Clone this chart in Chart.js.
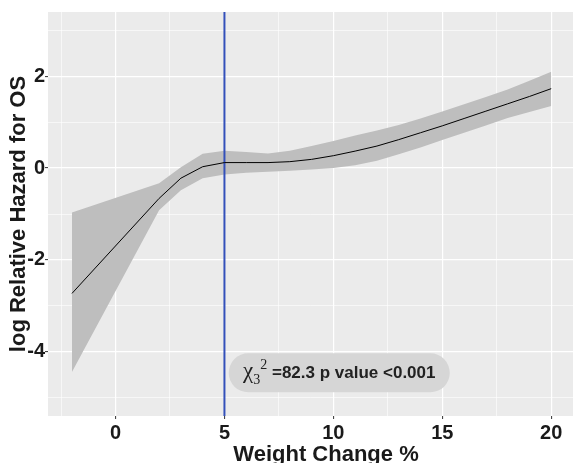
<!DOCTYPE html>
<html>
<head>
<meta charset="utf-8">
<script src="https://cdn.jsdelivr.net/npm/chart.js@4.4.1/dist/chart.umd.min.js"></script>
<style>
    html, body { margin: 0; padding: 0; background: #ffffff; }
</style>
</head>
<body>
<canvas id="graficoHazard" width="573" height="463"></canvas>
<script>
// Values
const weightChange = [-2, 2, 3, 4, 5, 6, 7, 8, 9, 10, 11, 12, 13, 14, 15, 16, 17, 18, 19, 20];
const logHazard = [-2.73, -0.66, -0.22, 0.03, 0.12, 0.12, 0.12, 0.14, 0.19, 0.27, 0.37, 0.48, 0.62, 0.77, 0.92, 1.08, 1.24, 1.40, 1.56, 1.73];
const upperCI = [-0.97, -0.33, 0.02, 0.31, 0.38, 0.35, 0.32, 0.38, 0.48, 0.59, 0.71, 0.82, 0.94, 1.08, 1.23, 1.39, 1.55, 1.71, 1.90, 2.10];
const lowerCI = [-4.44, -0.92, -0.48, -0.22, -0.14, -0.10, -0.08, -0.06, -0.03, 0.00, 0.06, 0.16, 0.30, 0.45, 0.61, 0.77, 0.93, 1.09, 1.22, 1.35];

// Cut-off line at 5 %
const cutoffX = [5, 5];
const cutoffY = [-5.4, 3.4];

// Ticks (major ones carry labels, minor ones only a thin grid line)
const xMajor = [0, 5, 10, 15, 20];
const xMinor = [-2.5, 2.5, 7.5, 12.5, 17.5];
const yMajor = [-4, -2, 0, 2];
const yMinor = [-5, -3, -1, 1, 3];

// Axis titles
const xTitle = 'Weight Change %';
const yTitle = 'log Relative Hazard for OS';

// Test statistic label
const statSymbol = 'χ';
const statDf = '3';
const statPow = '2';
const statText = ' =82.3 p value <0.001';
const statPos = [10.27, -4.46];

function toPoints(xs, ys) {
    return xs.map(function(x, i) { return { x: x, y: ys[i] }; });
}

function tickList(major, minor) {
    return major.concat(minor).sort(function(a, b) { return a - b; }).map(function(v) { return { value: v }; });
}

// Grey ggplot-like panel
const panelBackground = {
    id: 'panelBackground',
    beforeDraw: function(chart) {
        const a = chart.chartArea;
        const ctx = chart.ctx;
        ctx.save();
        ctx.fillStyle = '#EBEBEB';
        ctx.fillRect(a.left, a.top, a.right - a.left, a.bottom - a.top);
        ctx.restore();
    }
};

// x title sits a little right of the panel centre in the original
const xTitleLabel = {
    id: 'xTitleLabel',
    afterDraw: function(chart) {
        const ctx = chart.ctx;
        ctx.save();
        ctx.font = 'bold 22px "Liberation Sans"';
        ctx.fillStyle = '#1A1A1A';
        ctx.textAlign = 'center';
        ctx.textBaseline = 'alphabetic';
        ctx.fillText(xTitle, 326, 461);
        ctx.restore();
    }
};

// Rounded label with the chi-square result
const statLabel = {
    id: 'statLabel',
    afterDatasetsDraw: function(chart) {
        const ctx = chart.ctx;
        const cx = chart.scales.x.getPixelForValue(statPos[0]);
        const cy = chart.scales.y.getPixelForValue(statPos[1]);
        const w = 221, h = 39, r = h / 2;

        ctx.save();
        ctx.fillStyle = '#D6D6D6';
        ctx.beginPath();
        ctx.moveTo(cx - w / 2 + r, cy - h / 2);
        ctx.lineTo(cx + w / 2 - r, cy - h / 2);
        ctx.arc(cx + w / 2 - r, cy, r, -Math.PI / 2, Math.PI / 2);
        ctx.lineTo(cx - w / 2 + r, cy + h / 2);
        ctx.arc(cx - w / 2 + r, cy, r, Math.PI / 2, Math.PI * 1.5);
        ctx.closePath();
        ctx.fill();

        const parts = [
            { text: statSymbol, font: '23px "Liberation Serif"', dy: 0 },
            { text: statDf, font: '14px "Liberation Serif"', dy: 6 },
            { text: statPow, font: '14px "Liberation Serif"', dy: -9 },
            { text: statText, font: 'bold 17px "Liberation Sans"', dy: 0 }
        ];
        let total = 0;
        parts.forEach(function(p) {
            ctx.font = p.font;
            p.w = ctx.measureText(p.text).width;
            total += p.w;
        });
        let x = cx - total / 2;
        const base = cy + 5;
        ctx.fillStyle = '#222222';
        ctx.textBaseline = 'alphabetic';
        ctx.textAlign = 'left';
        parts.forEach(function(p) {
            ctx.font = p.font;
            ctx.fillText(p.text, x, base + p.dy);
            x += p.w;
        });
        ctx.restore();
    }
};

const tickFont = { family: 'Liberation Sans', size: 20, weight: 'bold' };
const titleFont = { family: 'Liberation Sans', size: 22, weight: 'bold' };

new Chart(document.getElementById('graficoHazard').getContext('2d'), {
    type: 'line',
    data: {
        datasets: [
            {
                label: 'log Relative Hazard',
                data: toPoints(weightChange, logHazard),
                borderColor: '#000000',
                borderWidth: 1,
                pointRadius: 0,
                fill: false
            },
            {
                label: 'Cut-off',
                data: toPoints(cutoffX, cutoffY),
                borderColor: '#3350BA',
                borderWidth: 2,
                pointRadius: 0,
                fill: false
            },
            {
                label: 'Upper CI',
                data: toPoints(weightChange, upperCI),
                borderWidth: 0,
                borderColor: 'rgba(0,0,0,0)',
                backgroundColor: '#BEBEBE',
                pointRadius: 0,
                fill: '+1'
            },
            {
                label: 'Lower CI',
                data: toPoints(weightChange, lowerCI),
                borderWidth: 0,
                borderColor: 'rgba(0,0,0,0)',
                pointRadius: 0,
                fill: false
            }
        ]
    },
    options: {
        responsive: false,
        animation: false,
        layout: { padding: { top: 12, right: 0, left: 0, bottom: 0 } },
        plugins: {
            legend: { display: false },
            tooltip: { enabled: false }
        },
        scales: {
            x: {
                type: 'linear',
                min: -3.1,
                max: 21,
                afterBuildTicks: function(scale) { scale.ticks = tickList(xMajor, xMinor); },
                afterFit: function(scale) { scale.height = 47; },
                border: { display: false },
                grid: {
                    color: '#FFFFFF',
                    lineWidth: function(c) { return xMajor.includes(c.tick.value) ? 1.2 : 0.6; },
                    tickColor: function(c) { return xMajor.includes(c.tick.value) ? '#333333' : 'rgba(0,0,0,0)'; },
                    tickLength: 3,
                    tickWidth: 1
                },
                ticks: {
                    autoSkip: false,
                    maxRotation: 0,
                    padding: 2,
                    color: '#1A1A1A',
                    font: tickFont,
                    callback: function(v) { return xMajor.includes(v) ? String(v) : ''; }
                },
                title: { display: false }
            },
            y: {
                type: 'linear',
                min: -5.4,
                max: 3.4,
                afterBuildTicks: function(scale) { scale.ticks = tickList(yMajor, yMinor); },
                afterFit: function(scale) { scale.width = 48; },
                border: { display: false },
                grid: {
                    color: '#FFFFFF',
                    lineWidth: function(c) { return yMajor.includes(c.tick.value) ? 1.2 : 0.6; },
                    tickColor: function(c) { return yMajor.includes(c.tick.value) ? '#333333' : 'rgba(0,0,0,0)'; },
                    tickLength: 3,
                    tickWidth: 1
                },
                ticks: {
                    autoSkip: false,
                    padding: 0,
                    color: '#1A1A1A',
                    font: tickFont,
                    callback: function(v) { return yMajor.includes(v) ? String(v) : ''; }
                },
                title: {
                    display: true,
                    text: yTitle,
                    color: '#1A1A1A',
                    font: titleFont,
                    padding: { top: 6, bottom: 0 }
                }
            }
        }
    },
    plugins: [panelBackground, statLabel, xTitleLabel]
});
</script>
</body>
</html>
